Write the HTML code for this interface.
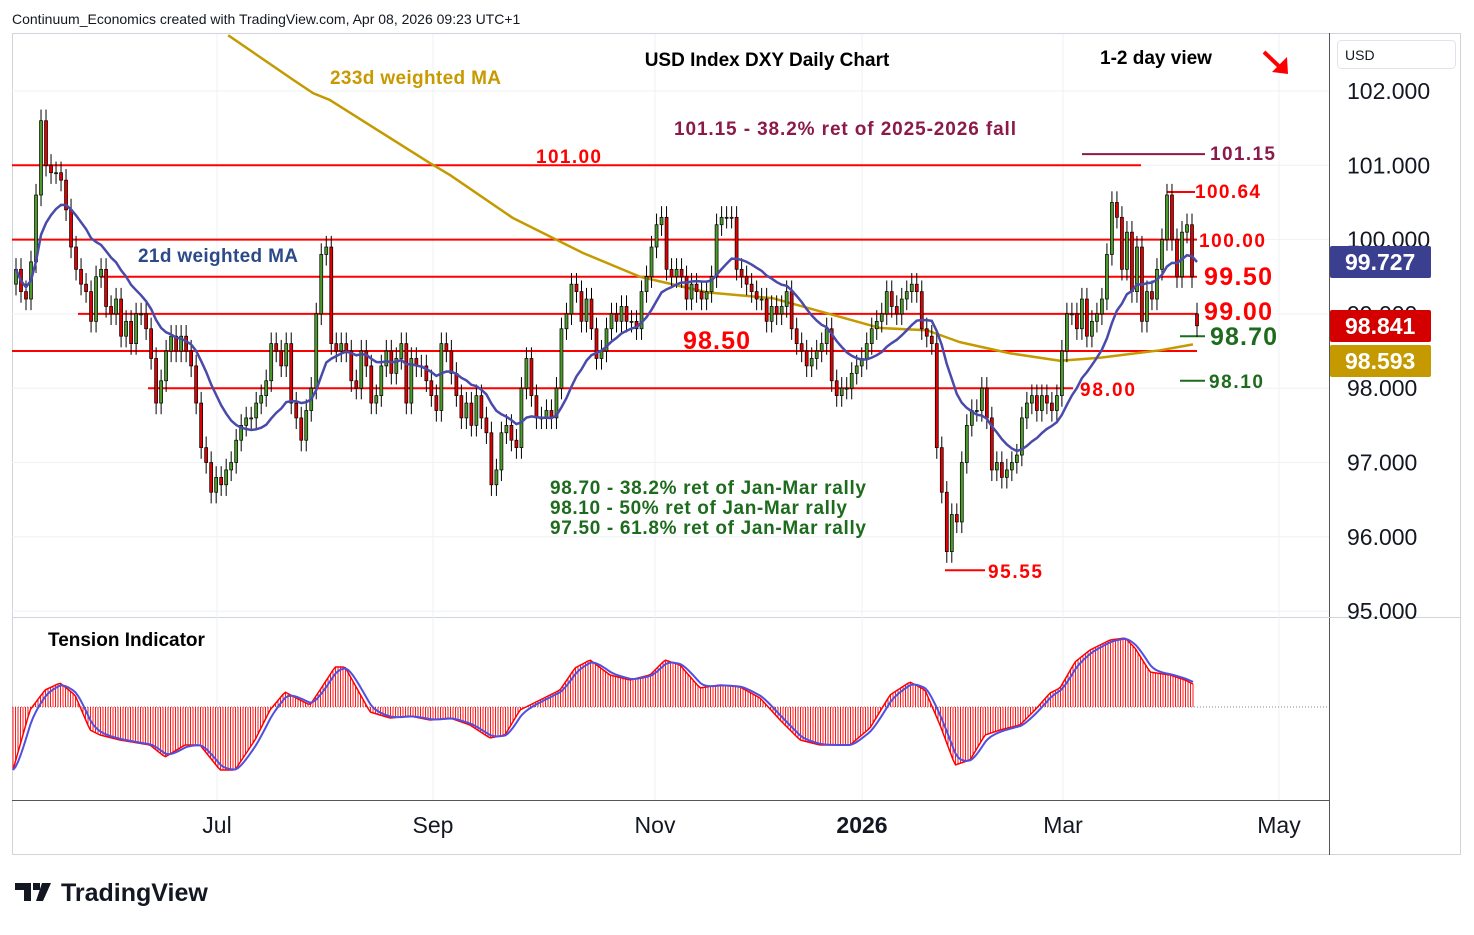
<!DOCTYPE html>
<html><head><meta charset="utf-8"><style>
body{margin:0;background:#fff;font-family:"Liberation Sans",sans-serif}
svg text{font-family:"Liberation Sans","DejaVu Sans",sans-serif}
</style></head><body>
<svg id="c" width="1474" height="930" xmlns="http://www.w3.org/2000/svg">
<rect x="0" y="0" width="1474" height="930" fill="#fff"/>
<text x="12" y="24" font-size="14" fill="#131722">Continuum_Economics created with TradingView.com, Apr 08, 2026 09:23 UTC+1</text>
<rect x="12.5" y="33.5" width="1448" height="821" fill="none" stroke="#d1d4dc"/>
<line x1="1329.5" y1="33" x2="1329.5" y2="855" stroke="#555"/>
<line x1="12" y1="617.5" x2="1461" y2="617.5" stroke="#d1d4dc"/>
<line x1="12" y1="800.5" x2="1329" y2="800.5" stroke="#555"/>
<g id="grid"></g>
<g id="levels"></g>
<g id="ma233"></g>
<g id="candles"></g>
<g id="ma21"></g>
<g id="tension"></g>
<g id="axes"></g>
<text x="767" y="66" font-size="19" font-weight="bold" text-anchor="middle" fill="#000">USD Index DXY Daily Chart</text>
<text x="1156" y="64" font-size="19" font-weight="bold" text-anchor="middle" fill="#000">1-2 day view</text>
<g><line x1="1264" y1="52" x2="1284" y2="71" stroke="#f00" stroke-width="4"/><path d="M1288 74 L1272 72 L1287 57 Z" fill="#f00"/></g>
<text x="330" y="84" font-size="19" font-weight="bold" fill="#c89a00" textLength="171">233d weighted MA</text>
<text x="138" y="262" font-size="19" font-weight="bold" fill="#2c4a8a" textLength="160">21d weighted MA</text>
<text x="674" y="135" font-size="19" font-weight="bold" fill="#8b1a4a" textLength="342">101.15 - 38.2% ret of 2025-2026 fall</text>
<text x="536" y="163" font-size="19" font-weight="bold" fill="#f00" textLength="65">101.00</text>
<text x="1210" y="160" font-size="19" font-weight="bold" fill="#8b1a4a" textLength="65">101.15</text>
<text x="1195" y="198" font-size="19" font-weight="bold" fill="#f00" textLength="65">100.64</text>
<text x="1199" y="247" font-size="19" font-weight="bold" fill="#f00" textLength="66">100.00</text>
<text x="1204" y="285" font-size="25" font-weight="bold" fill="#f00" textLength="68">99.50</text>
<text x="1204" y="320" font-size="25" font-weight="bold" fill="#f00" textLength="68">99.00</text>
<text x="683" y="349" font-size="25" font-weight="bold" fill="#f00" textLength="67">98.50</text>
<text x="1210" y="345" font-size="25" font-weight="bold" fill="#1e6b1e" textLength="67">98.70</text>
<text x="1209" y="388" font-size="19" font-weight="bold" fill="#1e6b1e" textLength="54">98.10</text>
<text x="1080" y="396" font-size="19" font-weight="bold" fill="#f00" textLength="55">98.00</text>
<text x="988" y="578" font-size="19" font-weight="bold" fill="#f00" textLength="54">95.55</text>
<g font-size="19" font-weight="bold" fill="#1e6b1e">
<text x="550" y="494" textLength="316">98.70 - 38.2% ret of Jan-Mar rally</text>
<text x="550" y="514" textLength="297">98.10 - 50% ret of Jan-Mar rally</text>
<text x="550" y="534" textLength="316">97.50 - 61.8% ret of Jan-Mar rally</text>
</g>
<text x="48" y="646" font-size="19" font-weight="bold" fill="#000">Tension Indicator</text>
<rect x="1337.5" y="40.5" width="118" height="28" rx="4" fill="#fff" stroke="#e0e3eb"/>
<text x="1345" y="60" font-size="14" fill="#131722">USD</text>
<g>
<path d="M15 883h16v18h-7v-11h-9z M33 883h7v7h-7z M42 883h9l-8 18h-7z" fill="#131722"/>
<text x="61" y="901" font-size="25" font-weight="bold" fill="#131722">TradingView</text>
</g>
</svg>
<script>
const closes=[99.6,99.3,99.2,99.7,100.6,101.6,101.0,100.9,100.9,100.8,100.4,99.9,99.6,99.4,99.3,98.9,99.5,99.6,99.1,99.0,99.2,98.7,98.9,98.6,99.0,99.0,98.8,98.4,97.8,98.1,98.5,98.7,98.5,98.7,98.5,98.3,97.8,97.2,97.0,96.6,96.8,96.7,96.9,97.0,97.3,97.5,97.6,97.6,97.8,97.9,98.1,98.6,98.5,98.3,98.6,97.8,97.6,97.3,97.7,98.0,99.0,99.8,99.9,98.6,98.5,98.6,98.5,98.1,98.0,98.5,98.3,97.8,97.9,98.3,98.5,98.2,98.4,98.6,97.8,98.4,98.3,98.3,98.1,97.9,97.7,98.6,98.5,98.2,97.9,97.6,97.8,97.5,97.9,97.6,97.4,96.7,96.9,97.4,97.5,97.3,97.2,98.0,98.4,97.9,97.6,97.6,97.7,97.6,98.0,98.8,99.0,99.4,99.3,98.9,99.2,98.8,98.4,98.5,98.8,99.0,98.9,99.1,98.9,98.9,98.8,99.3,99.5,99.9,100.2,100.3,99.6,99.5,99.6,99.5,99.2,99.4,99.3,99.2,99.3,99.5,100.2,100.3,100.3,100.3,99.6,99.5,99.4,99.3,99.2,99.2,98.9,99.1,99.0,99.1,99.3,98.8,98.6,98.5,98.3,98.4,98.5,98.6,98.8,98.1,97.9,98.0,98.0,98.2,98.3,98.4,98.6,98.8,98.9,99.0,99.3,99.1,99.0,99.2,99.3,99.4,99.3,98.8,98.7,98.6,97.2,96.6,95.8,96.3,96.2,97.0,97.5,97.7,97.7,98.0,97.6,96.9,97.0,96.8,96.9,97.0,97.1,97.6,97.8,97.9,97.7,97.9,97.8,97.7,97.9,98.5,99.0,99.0,98.8,99.2,98.7,98.9,99.0,99.2,99.8,100.5,100.3,99.6,100.1,99.3,99.9,98.9,99.3,99.2,99.6,100.0,100.6,100.0,99.5,100.1,100.2,99.5,98.84];
const lastOpen=99.0;
const ma233Idx=[42.4,55.4,59.4,62.7,72.1,82.7,86.7,99.3,113.3,124.7,138.1,151.3,172.7,182,188.6,198.6,208.6,216.6,228.6,235.2];
const ma233Val=[102.75,102.15,101.97,101.88,101.48,101.03,100.87,100.29,99.82,99.50,99.29,99.21,98.81,98.78,98.62,98.47,98.37,98.41,98.51,98.59];
const tensionX=[13,30,45,60,75,90,100,120,150,165,185,200,220,235,255,270,285,300,310,320,335,345,355,370,390,410,430,450,470,490,505,520,540,560,575,590,610,630,650,665,680,700,720,740,760,780,800,820,850,870,890,910,925,940,955,970,985,1000,1020,1035,1050,1060,1075,1090,1110,1125,1135,1150,1170,1185,1195];
const tensionVal=[-63,-3,17,24,12,-23,-28,-33,-38,-50,-38,-38,-63,-63,-33,-3,15,7,2,17,40,40,22,-5,-11,-9,-13,-11,-18,-31,-28,-3,7,17,39,47,32,27,32,47,42,19,22,20,9,-13,-33,-38,-38,-21,12,25,17,-18,-58,-53,-28,-23,-18,-3,14,19,45,57,67,69,59,35,32,27,22];
const priceTicks=[102,101,100,99,98,97,96,95];
const timeLabels=["Jul","Sep","Nov","2026","Mar","May"];
const timeX=[217,433,655,862,1063,1279];

const NS="http://www.w3.org/2000/svg";
function yP(v){return 91+(102-v)*74.3;}
const n=closes.length;
function xI(i){return 16+i*(1197-16)/(n-1);}
function mk(tag,attrs,parent){const e=document.createElementNS(NS,tag);for(const k in attrs)e.setAttribute(k,attrs[k]);document.getElementById(parent).appendChild(e);return e;}

priceTicks.forEach(v=>{
 const g=mk('line',{x1:12,x2:1329,y1:yP(v),y2:yP(v),stroke:'#eef1f6'},'grid');
 
 
 const t=mk('text',{x:1347,y:yP(v)+8,'font-size':23,fill:'#131722'},'axes');
 t.textContent=v.toFixed(3);
 
 
});
timeX.forEach((x,i)=>{
 const g=mk('line',{x1:x,x2:x,y1:34,y2:800,stroke:'#eef1f6'},'grid');
 
 
 const t=mk('text',{x:x,y:833,'font-size':23,'text-anchor':'middle',fill:'#131722','font-weight':timeLabels[i]==='2026'?'bold':'normal'},'axes');
 t.textContent=timeLabels[i];
 
 
});
[[101,12,1141,'#f00'],[100,12,1197,'#f00'],[99.5,100,1197,'#f00'],[99,78,1197,'#f00'],[98.5,12,1197,'#f00'],[98,148,1073,'#f00'],[101.15,1082,1205,'#8b1a4a'],[100.64,1167,1195,'#f00'],[95.55,945,985,'#f00'],[98.7,1180,1205,'#1e6b1e'],[98.1,1180,1205,'#1e6b1e']].forEach(l=>{
 const e=mk('line',{x1:l[1],x2:l[2],y1:yP(l[0]),y2:yP(l[0]),stroke:l[3],'stroke-width':2},'levels');
 
 
});
let p=ma233Idx.map((ix,k)=>xI(ix)+','+yP(ma233Val[k])).join(' ');
const m2=mk('polyline',{points:p,fill:'none',stroke:'#c49a00','stroke-width':2.5,'stroke-linejoin':'round'},'ma233');


for(let i=0;i<n;i++){
 const o=i===n-1?lastOpen:(i===0?closes[0]-0.2:closes[i-1]);
 const c=closes[i];
 const up=c>=o;
 const hi=Math.max(o,c)+0.15, lo=Math.min(o,c)-0.15;
 const x=xI(i);
 const w=mk('line',{x1:x,x2:x,y1:yP(hi),y2:yP(lo),stroke:'#000','stroke-width':1},'candles');
 
 
 const top=yP(Math.max(o,c)),h=Math.max(1,yP(Math.min(o,c))-top);
 const b=mk('rect',{x:x-1.5,y:top,width:3,height:h,fill:up?'#4c9a2a':'#e00000',stroke:'#000','stroke-width':0.7},'candles');
 
 
}
let pts=[];
for(let i=0;i<n;i++){let s=0,ws=0;for(let k=0;k<21&&i-k>=0;k++){const w=21-k;s+=closes[i-k]*w;ws+=w;}pts.push(xI(i)+','+yP(s/ws));}
const m1=mk('polyline',{points:pts.join(' '),fill:'none',stroke:'#4a4aaa','stroke-width':2.5},'ma21');


function tv(x){for(let k=0;k<tensionX.length-1;k++){if(x<=tensionX[k+1]){const t=(x-tensionX[k])/(tensionX[k+1]-tensionX[k]);return tensionVal[k]+t*(tensionVal[k+1]-tensionVal[k]);}}return tensionVal[tensionVal.length-1];}
const z=707;
const zl=mk('line',{x1:12,x2:1329,y1:z,y2:z,stroke:'#888','stroke-dasharray':'1,2'},'tension');


let red=[],blue=[],ema=tv(13);
for(let x=13;x<=1195;x+=2.5){
 const v=tv(x);
 const h=mk('line',{x1:x,x2:x,y1:z,y2:z-v,stroke:'#f00','stroke-width':0.9},'tension');
 
 
 red.push(x+','+(z-v));
 ema=ema+0.35*(v-ema);
 blue.push(x+','+(z-ema));
}
const rl=mk('polyline',{points:red.join(' '),fill:'none',stroke:'#f00','stroke-width':1.5},'tension');


const bl=mk('polyline',{points:blue.join(' '),fill:'none',stroke:'#5050e0','stroke-width':2},'tension');


[[99.727,'#3a3f8f',262],[98.841,'#d40000',326],[98.593,'#c49a00',361]].forEach(b=>{
 const r=mk('rect',{x:1330,y:b[2]-16,width:101,height:32,rx:2,fill:b[1]},'axes');
 
 
 const t=mk('text',{x:1345,y:b[2]+8,'font-size':23,'font-weight':'bold',fill:'#fff'},'axes');
 t.textContent=b[0].toFixed(3);
 
 
});
</script>
</body></html>
